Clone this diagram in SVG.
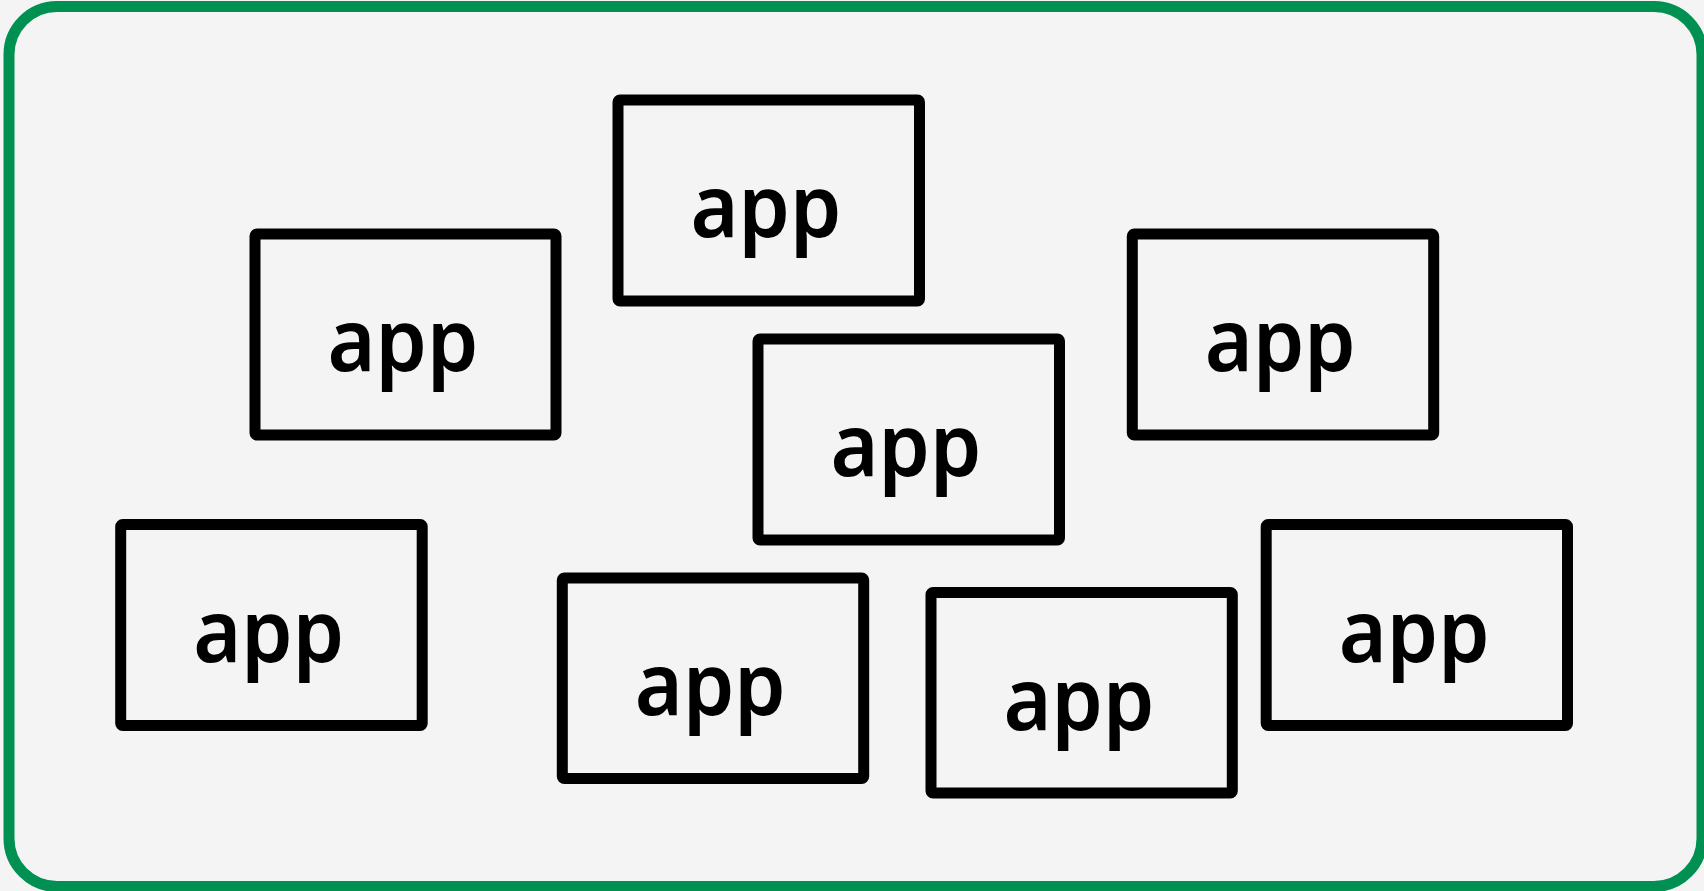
<svg xmlns="http://www.w3.org/2000/svg" width="1704" height="891" viewBox="0 0 1704 891">
<style>
.box{fill:none;stroke:#000;stroke-width:11;stroke-linejoin:round}
.lbl{font-family:"Noto Sans","DejaVu Sans",sans-serif;font-weight:600;font-size:86px;fill:#000;text-anchor:middle}
</style>
<rect x="0" y="0" width="1704" height="891" fill="#f4f4f4"/>
<rect id="frame" x="9" y="6.5" width="1693" height="880" rx="48" fill="#f4f4f4" stroke="#009052" stroke-width="11"/>
<g id="app1"><rect class="box" x="618" y="100" width="301.5" height="201" rx="2"/><text class="lbl" x="766" y="237" textLength="151" lengthAdjust="spacingAndGlyphs">app</text></g>
<g id="app2"><rect class="box" x="255" y="234" width="301" height="201" rx="2"/><text class="lbl" x="403" y="371" textLength="151" lengthAdjust="spacingAndGlyphs">app</text></g>
<g id="app3"><rect class="box" x="758" y="339" width="301.5" height="201" rx="2"/><text class="lbl" x="906" y="476" textLength="151" lengthAdjust="spacingAndGlyphs">app</text></g>
<g id="app4"><rect class="box" x="1132.3" y="234" width="301.4" height="201" rx="2"/><text class="lbl" x="1280.3" y="371" textLength="151" lengthAdjust="spacingAndGlyphs">app</text></g>
<g id="app5"><rect class="box" x="120.7" y="524.5" width="301.5" height="201" rx="2"/><text class="lbl" x="268.7" y="661.5" textLength="151" lengthAdjust="spacingAndGlyphs">app</text></g>
<g id="app6"><rect class="box" x="562.3" y="578" width="301.4" height="200.5" rx="2"/><text class="lbl" x="710.3" y="715" textLength="151" lengthAdjust="spacingAndGlyphs">app</text></g>
<g id="app7"><rect class="box" x="931" y="592.5" width="301.3" height="200.5" rx="2"/><text class="lbl" x="1079" y="729.5" textLength="151" lengthAdjust="spacingAndGlyphs">app</text></g>
<g id="app8"><rect class="box" x="1266.2" y="524.5" width="301.3" height="201" rx="2"/><text class="lbl" x="1414.2" y="661.5" textLength="151" lengthAdjust="spacingAndGlyphs">app</text></g>
<g id="connectors"/>
</svg>
